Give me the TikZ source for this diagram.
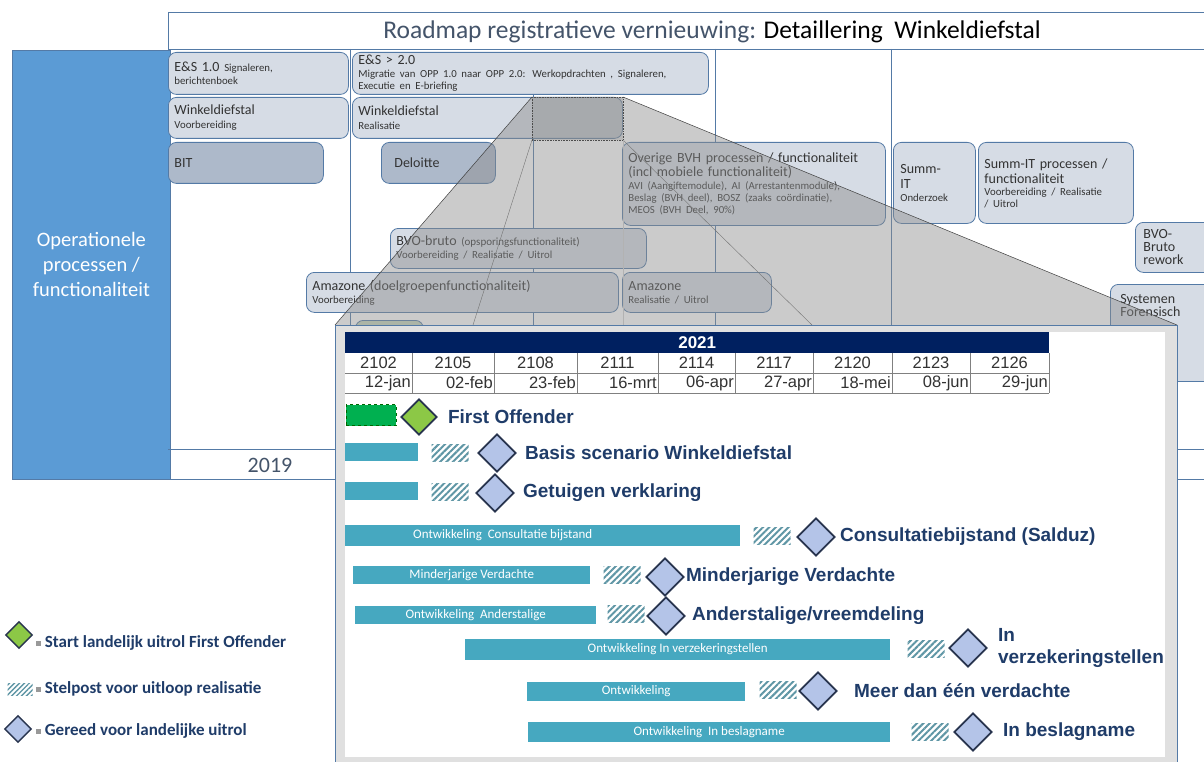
\documentclass[tikz,border=0pt]{standalone}
\usepackage{fontspec}
\setmainfont{Carlito}
\newfontfamily\chartfont{Liberation Sans}
\usetikzlibrary{shapes.geometric,patterns.meta,positioning}
\definecolor{rm_blue}{RGB}{91,155,213}
\definecolor{rm_line}{RGB}{84,122,166}
\definecolor{rm_fill}{RGB}{214,220,229}
\definecolor{rm_dark}{RGB}{173,185,202}
\definecolor{rm_green}{RGB}{200,215,190}
\definecolor{rm_title}{RGB}{68,84,106}
\definecolor{ch_navy}{RGB}{0,32,96}
\definecolor{ch_teal}{RGB}{70,168,192}
\definecolor{ch_diam}{RGB}{180,196,232}
\definecolor{ch_edge}{RGB}{40,52,78}
\definecolor{ch_green}{RGB}{140,200,70}
\definecolor{ch_bar}{RGB}{0,176,80}
\definecolor{ch_text}{RGB}{31,60,105}
\definecolor{ch_hatch}{RGB}{95,150,165}
\newcommand{\sm}{\fontsize{10.8}{12}\selectfont}
\newcommand{\chw}{\chartfont\fontsize{16.5}{17}\selectfont}
\tikzstyle{pbox}=[rectangle,rounded corners=8pt,fill=rm_fill,draw=rm_line,
  line width=0.8pt,anchor=north west,align=left,inner xsep=6pt,inner ysep=1pt,
  font=\fontsize{14}{15}\selectfont,text=black!80]
\tikzstyle{dbox}=[pbox,fill=rm_dark]
\tikzstyle{frame}=[draw=rm_line,line width=0.8pt]
\tikzstyle{gn}=[diamond,fill=ch_green,draw=ch_edge,line width=1.8pt,
  minimum width=36pt,minimum height=36pt,inner sep=0pt]
\tikzstyle{bn}=[diamond,fill=ch_diam,draw=ch_edge,line width=1.8pt,
  minimum width=38pt,minimum height=38pt,inner sep=0pt]
\tikzstyle{bar}=[rectangle,fill=ch_teal,anchor=west,inner sep=0pt,
  minimum height=18pt,text=white,font=\fontsize{13}{13}\selectfont]
\tikzstyle{hatch}=[rectangle,pattern={Lines[angle=45,distance=4.5pt,line width=2pt]},
  pattern color=ch_hatch,minimum width=37pt,minimum height=17pt,inner sep=0pt]
\tikzstyle{lbl}=[anchor=west,inner sep=0pt,text=ch_text,
  font=\chartfont\bfseries\fontsize{19}{22}\selectfont,align=left]
\tikzstyle{leg}=[anchor=west,inner sep=0pt,text=ch_text,
  font=\bfseries\fontsize{17}{19}\selectfont]
\tikzstyle{none}=[]
\begin{document}
\begin{tikzpicture}[x=1pt,y=-1pt]
		\clip (0,0) rectangle (1204,762);
		\fill [white] (0,0) rectangle (1204,762);
		% frame of the roadmap
		\node [fill=rm_blue,draw=rm_line,line width=0.8pt,anchor=north west,
		  minimum width=158pt,minimum height=429pt,text=white,align=center,
		  font=\fontsize{20.5}{25}\selectfont] (ops) at (12,50)
		  {Operationele\\processen /\\functionaliteit};
		\draw [style=frame] (168,12) -- (1210,12);
		\draw [style=frame] (168,12) -- (168,50);
		\draw [style=frame] (168,49) -- (1210,49);
		\draw [style=frame] (350,49) -- (350,479);
		\draw [style=frame] (533,95) -- (533,449);
		\draw [style=frame] (715,49) -- (715,449);
		\draw [style=frame] (891,49) -- (891,449);
		\draw [style=frame] (168,449) -- (1210,449);
		\draw [style=frame] (168,479) -- (1210,479);
		\node [style=none,text=rm_title,font=\fontsize{25.5}{28}\selectfont] (title) at (712,32)
		  {Roadmap registratieve vernieuwing: \textcolor{black}{Detaillering\ \ Winkeldiefstal}};
		\node [style=none,text=rm_title,font=\fontsize{22}{24}\selectfont] (y2019) at (270,465) {2019};
		% boxes of the roadmap
		\node [style=pbox,text width=168pt,minimum height=42pt] (es1) at (168,52)
		  {E\&S 1.0 {\sm Signaleren,}\\[-2pt]{\sm berichtenboek}};
		\node [style=pbox,text width=344pt,minimum height=42pt] (es2) at (352,52)
		  {E\&S > 2.0\\[-2pt]{\sm Migratie van OPP 1.0 naar OPP 2.0: Werkopdrachten , Signaleren,}\\[-3pt]{\sm Executie en E-briefing}};
		\node [style=pbox,text width=168pt,minimum height=41pt] (wd1) at (168,97)
		  {Winkeldiefstal\\[-1pt]{\sm Voorbereiding}};
		\node [style=pbox,text width=258pt,minimum height=41pt] (wd2) at (352,97)
		  {Winkeldiefstal\\[-1pt]{\sm Realisatie}};
		\node [style=dbox,text width=143pt,minimum height=41pt] (bit) at (168,142) {BIT};
		\node [style=dbox,text width=88pt,minimum height=41pt,inner xsep=13pt] (del) at (381,142) {Deloitte};
		\node [style=pbox,text width=251pt,minimum height=83pt] (bvh) at (622,142)
		  {Overige BVH processen / functionaliteit\\[-1pt](incl mobiele functionaliteit)\\[-2pt]
		   {\sm AVI (Aangiftemodule), AI (Arrestantenmodule),}\\[-3pt]
		   {\sm Beslag (BVH deel), BOSZ (zaaks co\"ordinatie),}\\[-3pt]
		   {\sm MEOS (BVH Deel, 90\%)}};
		\node [style=pbox,text width=68pt,minimum height=81pt,inner xsep=7pt] (sumo) at (893,142)
		  {Summ-\\IT\\[-2pt]{\sm Onderzoek}};
		\node [style=pbox,text width=143pt,minimum height=81pt] (sump) at (978,142)
		  {Summ-IT processen /\\functionaliteit\\[-3pt]{\sm Voorbereiding / Realisatie}\\[-3pt]{\sm / Uitrol}};
		\node [style=pbox,text width=70pt,minimum height=50pt,inner xsep=8pt] (bvor) at (1135,222)
		  {BVO-\\[-2pt]Bruto\\[-2pt]rework};
		\node [style=pbox,text width=90pt,minimum height=97pt,inner xsep=10pt] (sys) at (1110,284)
		  {Systemen\\[-2pt]Forensisch\\[40pt]\mbox{}};
		\node [style=pbox,text width=244pt,minimum height=40pt] (bvo) at (390,228)
		  {BVO-bruto {\fontsize{11}{12}\selectfont(opsporingsfunctionaliteit)}\\[-2pt]{\sm Voorbereiding / Realisatie / Uitrol}};
		\node [style=pbox,text width=300pt,minimum height=40pt] (ama1) at (306,272)
		  {Amazone (doelgroepenfunctionaliteit)\\[-2pt]{\sm Voorbereiding}};
		\node [style=pbox,text width=137pt,minimum height=40pt] (ama2) at (622,272)
		  {Amazone\\[-2pt]{\sm Realisatie / Uitrol}};
		\node [style=pbox,fill=rm_green,text width=56pt,minimum height=30pt] (grn) at (355,320) {};
		% zoom funnel
		\coordinate (z1) at (532,97);
		\coordinate (z2) at (623,97);
		\coordinate (z3) at (623,140);
		\coordinate (z4) at (532,140);
		\coordinate (i1) at (335,325);
		\coordinate (i2) at (1177,325);
		\coordinate (i3) at (473,325);
		\coordinate (i4) at (812,325);
		\coordinate (i5) at (623,325);
		\fill [black!45,opacity=0.45] (z1) -- (z2) -- (i2) -- (i1) -- cycle;
		\fill [black!45,opacity=0.3] (z1) rectangle (z3);
		\draw [black!70,densely dotted,line width=0.6pt] (z1) rectangle (z3);
		\draw [black!75,line width=0.5pt] (z1) -- (i1);
		\draw [black!75,line width=0.5pt] (z2) -- (i2);
		\draw [black!55,line width=0.4pt] (z4) -- (i3);
		\draw [black!55,line width=0.4pt] (z3) -- (i4);
		\draw [black!30,line width=0.4pt] (z3) -- (i5);
		% inset with the planning
		\draw [fill=black!12,draw=rm_line,line width=1pt] (i1) rectangle (1177,775);
		\fill [white] (345,332) rectangle (1165,757);
		\node [fill=ch_navy,anchor=north west,minimum width=704pt,minimum height=21pt,inner sep=0pt,
		  text=white,font=\chartfont\bfseries\fontsize{17}{18}\selectfont] (yr) at (345,332) {2021};
		\foreach \wk/\dt/\xl/\xr [count=\i] in {2102/12-jan/345/412,2105/02-feb/412/494,
		  2108/23-feb/494/577,2111/16-mrt/577/658,2114/06-apr/658/735,2117/27-apr/735/813,
		  2120/18-mei/813/892,2123/08-jun/892/970,2126/29-jun/970/1049}{
			\draw [black!50,line width=0.8pt] (\xr,353) -- (\xr,393);
			\node [style=none,font=\chw,text=black!80] (wk\i) at ({(\xl+\xr)/2},363) {\wk};
			\node [style=none,font=\chw,text=black!80,anchor=east,inner sep=1pt] (dt\i) at (\xr,383) {\dt};
		}
		\draw [black!50,line width=0.8pt] (345,373) -- (1049,373);
		\draw [black!50,line width=0.8pt] (345,393) -- (1049,393);
		% rows
		\node [rectangle,fill=ch_bar,draw=green!40!black,dashed,anchor=west,
		  minimum width=50pt,minimum height=21pt,inner sep=0pt] (b1) at (346,415) {};
		\node [style=gn] (d1) at (419,417) {};
		\node [style=lbl,right=10pt of d1] (t1) {First Offender};
		\node [style=bar,minimum width=73pt] (b2) at (345,452) {};
		\node [style=hatch] (h2) at (450,453) {};
		\node [style=bn] (d2) at (497,453) {};
		\node [style=lbl,right=8pt of d2] (t2) {Basis scenario Winkeldiefstal};
		\node [style=bar,minimum width=73pt] (b3) at (345,491) {};
		\node [style=hatch] (h3) at (450,492) {};
		\node [style=bn] (d3) at (495,493) {};
		\node [style=lbl,right=8pt of d3] (t3) {Getuigen verklaring};
		\node [style=bar,minimum width=395pt,minimum height=21pt] (b4) at (345,535) {Ontwikkeling\ \ Consultatie bijstand\hspace*{80pt}};
		\node [style=hatch] (h4) at (772,536) {};
		\node [style=bn] (d4) at (816,537) {};
		\node [style=lbl,right=4pt of d4] (t4) {Consultatiebijstand (Salduz)};
		\node [style=bar,minimum width=237pt] (b5) at (353,575) {Minderjarige Verdachte};
		\node [style=hatch] (h5) at (622,575) {};
		\node [style=bn] (d5) at (665,577) {};
		\node [style=lbl,right=1pt of d5] (t5) {Minderjarige Verdachte};
		\node [style=bar,minimum width=241pt] (b6) at (355,615) {Ontwikkeling\ \ Anderstalige};
		\node [style=hatch] (h6) at (626,614) {};
		\node [style=bn] (d6) at (666,616) {};
		\node [style=lbl,right=6pt of d6] (t6) {Anderstalige/vreemdeling};
		\node [style=bar,minimum width=425pt,minimum height=21pt] (b7) at (465,649) {Ontwikkeling In verzekeringstellen};
		\node [style=hatch] (h7) at (926,649) {};
		\node [style=bn] (d7) at (968,648) {};
		\node [style=lbl,right=10pt of d7,font=\chartfont\bfseries\fontsize{19}{22}\selectfont] (t7) {In\\verzekeringstellen};
		\node [style=bar,minimum width=218pt,minimum height=19pt] (b8) at (527,691) {Ontwikkeling};
		\node [style=hatch] (h8) at (778,690) {};
		\node [style=bn] (d8) at (818,691) {};
		\node [style=lbl,right=16pt of d8] (t8) {Meer dan \'e\'en verdachte};
		\node [style=bar,minimum width=362pt,minimum height=20pt] (b9) at (528,732) {Ontwikkeling\ \ In beslagname};
		\node [style=hatch] (h9) at (930,732) {};
		\node [style=bn] (d9) at (973,732) {};
		\node [style=lbl,right=10pt of d9] (t9) {In beslagname};
		% legend
		\node [style=gn,minimum width=27pt,minimum height=27pt,line width=1.4pt] (lg1) at (19,635) {};
		\node [fill=black!40,minimum size=5pt,inner sep=0pt] (ls1) at (38,643) {};
		\node [style=leg,right=4pt of ls1] (lt1) {Start landelijk uitrol First Offender};
		\node [style=hatch,minimum width=25pt,minimum height=12pt,pattern={Lines[angle=45,distance=3.5pt,line width=1.4pt]}] (lg2) at (20,689) {};
		\node [fill=black!40,minimum size=5pt,inner sep=0pt] (ls2) at (38,689) {};
		\node [style=leg,right=4pt of ls2] (lt2) {Stelpost voor uitloop realisatie};
		\node [style=bn,minimum width=27pt,minimum height=27pt,line width=1.4pt] (lg3) at (18,729) {};
		\node [fill=black!40,minimum size=5pt,inner sep=0pt] (ls3) at (38,731) {};
		\node [style=leg,right=4pt of ls3] (lt3) {Gereed voor landelijke uitrol};
\end{tikzpicture}
\end{document}
